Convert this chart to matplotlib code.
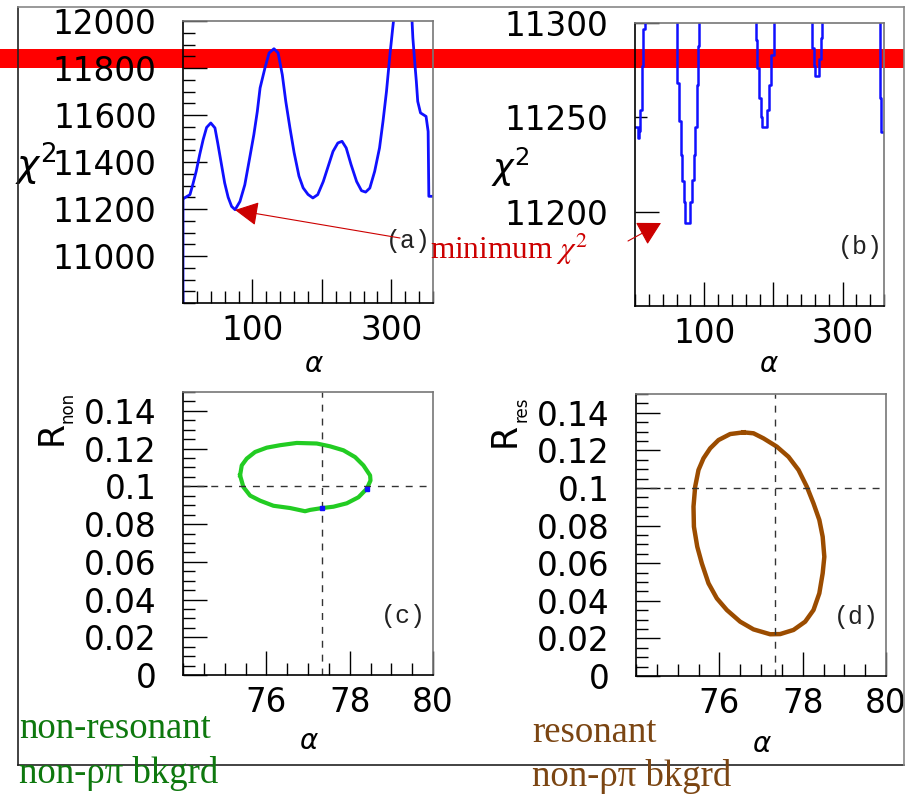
import matplotlib
matplotlib.use('Agg')
import matplotlib.pyplot as plt
from matplotlib.patches import Rectangle, FancyArrowPatch
from matplotlib.lines import Line2D
from matplotlib.ticker import MultipleLocator, FixedLocator

# (a) chi2 scan over alpha
alpha_a = [0, 0, 2, 10, 14, 19, 24, 29, 34, 40, 46, 50, 55, 60, 65, 70, 75, 82, 89, 96,
           102, 107, 111, 118, 124, 131, 137, 143, 148, 154, 160, 167, 173, 180, 187, 194, 202, 209, 216, 223,
           229, 235, 242, 250, 257, 263, 269, 276, 283, 288, 293, 298, 302, 305, 329, 331, 334, 336, 338, 342,
           350, 353, 354, 360]
chi2_a = [10800, 11245, 11247, 11261, 11303, 11360, 11431, 11495, 11547, 11566, 11545, 11481, 11396, 11311, 11250, 11211, 11197, 11232, 11303, 11417,
          11516, 11615, 11715, 11800, 11864, 11882, 11864, 11771, 11658, 11545, 11440, 11340, 11290, 11262, 11247, 11261, 11317, 11381, 11445, 11481,
          11488, 11460, 11389, 11317, 11278, 11272, 11289, 11360, 11460, 11573, 11700, 11857, 11970, 12050, 12050, 11928, 11814, 11743, 11658, 11609,
          11594, 11530, 11254, 11254]

# (b) same scan, zoomed near the minima
alpha_b = [0, 3, 4.8, 7.2, 8.7, 11, 13.5, 15, 40,
           60, 62.6, 65, 67.5, 69, 71.3, 74.7, 78.5, 81, 83.4, 85.8, 88.2, 90, 92, 93, 130,
           173.5, 175, 177, 180.7, 183, 185.5, 190, 192.7, 195, 198.5, 202, 229,
           254, 257, 260, 261.7, 265, 267.5, 270, 272, 320,
           353, 355, 356.7, 360]
chi2_b = [11245, 11245, 11239, 11243, 11254, 11277, 11297, 11320, 11560,
          11310, 11268, 11248, 11230, 11216, 11205, 11194, 11194, 11205, 11217, 11230, 11245, 11267, 11288, 11310, 11880,
          11310, 11291, 11276, 11260, 11250, 11245, 11245, 11254, 11267, 11283, 11305, 11490,
          11305, 11287, 11277, 11272, 11272, 11281, 11292, 11305, 12000,
          11310, 11260, 11242, 11242]

# (c) contour, non-resonant non-rho-pi background
alpha_c = [75.37, 75.41, 75.53, 75.73, 76.01, 76.33, 76.73, 77.21, 77.53, 77.85, 78.13, 78.33, 78.49, 78.50,
           78.41, 78.21, 77.93, 77.61, 77.34, 77.05, 76.93, 76.57, 76.17, 75.85, 75.61, 75.45, 75.37]
rnon_c = [0.1058, 0.1111, 0.1147, 0.1182, 0.1205, 0.1218, 0.1230, 0.1227, 0.1212, 0.1191, 0.1155, 0.1111, 0.1058, 0.1031,
          0.0987, 0.0942, 0.0910, 0.0892, 0.0885, 0.0875, 0.0868, 0.0885, 0.0897, 0.0924, 0.0951, 0.0996, 0.1058]
blue_alpha = [77.34, 78.41]
blue_r = [0.0885, 0.0987]

# (d) contour, resonant non-rho-pi background
alpha_d = [76.58, 76.26, 75.98, 75.78, 75.62, 75.50, 75.42, 75.38, 75.39, 75.47, 75.58, 75.74, 75.94, 76.18, 76.50,
           76.82, 77.22, 77.46, 77.78, 78.06, 78.26, 78.40, 78.48, 78.52, 78.48, 78.40, 78.26, 78.10, 77.90, 77.66,
           77.38, 77.06, 76.82, 76.58]
rres_d = [0.1296, 0.1287, 0.1255, 0.1211, 0.1158, 0.1096, 0.1007, 0.0901, 0.0794, 0.0688, 0.0599, 0.0493, 0.0413, 0.0351, 0.0289,
          0.0248, 0.0222, 0.0223, 0.0245, 0.0289, 0.0351, 0.0440, 0.0546, 0.0634, 0.0741, 0.0830, 0.0918, 0.1007, 0.1096, 0.1166,
          0.1220, 0.1264, 0.1291, 0.1296]

alpha_best = 77.34
r_best = 0.1

W, H = 918, 796
fig = plt.figure(figsize=(W / 100, H / 100), dpi=100)


def fx(x):
    return x / W


def fy(y):
    return 1 - y / H


def px_axes(l, t, r, b):
    return fig.add_axes([l / W, 1 - b / H, (r - l) / W, (b - t) / H])


def style(ax):
    ax.set_facecolor('none')
    for s in ['top', 'right']:
        ax.spines[s].set_color('#777777')
    for s in ['left', 'bottom']:
        ax.spines[s].set_color('black')
    for s in ax.spines.values():
        s.set_linewidth(1.2)
    ax.tick_params(which='both', direction='in', top=False, right=False, width=1, labelsize=23.5)
    ax.tick_params(which='major', length=17)
    ax.tick_params(which='minor', length=8.5)
    ax.tick_params(axis='y', pad=19)
    ax.tick_params(axis='x', pad=8)


# red band behind everything
fig.add_artist(Rectangle((0, fy(68)), fx(904), 19 / H, transform=fig.transFigure,
                         facecolor='red', edgecolor='none', zorder=-5))

# outer frame
fig.add_artist(Line2D([fx(18), fx(18)], [fy(7), fy(765)], transform=fig.transFigure, color='#222222', lw=1.2))
fig.add_artist(Line2D([fx(18), fx(904)], [fy(765), fy(765)], transform=fig.transFigure, color='#222222', lw=1.2))
fig.add_artist(Line2D([fx(18), fx(904)], [fy(7), fy(7)], transform=fig.transFigure, color='#888888', lw=1.2))
fig.add_artist(Line2D([fx(904), fx(904)], [fy(7), fy(765)], transform=fig.transFigure, color='#888888', lw=1.2))

tagfont = dict(fontsize=18, family='Liberation Mono', ha='center', va='center', color='#222222')

# ---- (a)
ax = px_axes(183, 21, 433, 303)
style(ax)
ax.plot(alpha_a, chi2_a, color='#1010ff', lw=2)
ax.set_xlim(0, 360)
ax.set_ylim(10800, 12000)
ax.xaxis.set_major_locator(FixedLocator([100, 200, 300]))
ax.set_xticklabels(['100', '', '300'])
ax.xaxis.set_minor_locator(MultipleLocator(20))
ax.yaxis.set_major_locator(FixedLocator([11000, 11200, 11400, 11600, 11800, 12000]))
ax.yaxis.set_minor_locator(MultipleLocator(50))
ax.set_xlabel('α', fontsize=20, style='italic')
ax.xaxis.set_label_coords(0.52, -0.167)
ax.text(-0.59, 0.49, r'$\chi^{2}$', transform=ax.transAxes, fontsize=27, ha='center', va='center')
ax.text(0.9, 0.22, '(a)', transform=ax.transAxes, **tagfont)

# ---- (b)
ax = px_axes(635, 23, 884, 306)
style(ax)
ax.plot(alpha_b, chi2_b, color='#1010ff', lw=1.8, drawstyle='steps-mid')
ax.set_xlim(0, 360)
ax.set_ylim(11150, 11300)
ax.xaxis.set_major_locator(FixedLocator([100, 200, 300]))
ax.set_xticklabels(['100', '', '300'])
ax.xaxis.set_minor_locator(MultipleLocator(20))
ax.yaxis.set_major_locator(FixedLocator([11200, 11250, 11300]))
ax.yaxis.get_major_ticks()[1].tick1line.set_markersize(8.5)
ax.set_xlabel('α', fontsize=20, style='italic')
ax.xaxis.set_label_coords(0.534, -0.155)
ax.text(-0.50, 0.49, r'$\chi^{2}$', transform=ax.transAxes, fontsize=25, ha='center', va='center')
ax.text(0.905, 0.21, '(b)', transform=ax.transAxes, **tagfont)

# ---- (c) and (d)
ylabs = ['0', '0.02', '0.04', '0.06', '0.08', '0.1', '0.12', '0.14']
yvals = [0, 0.02, 0.04, 0.06, 0.08, 0.1, 0.12, 0.14]
panels = [
    ((183, 392, 433, 675), alpha_c, rnon_c, '#22cc22', 3.0, '(c)', 'non', -0.184),
    ((636, 394, 886, 676), alpha_d, rres_d, '#9b4c00', 3.2, '(d)', 'res', -0.19),
]
for box, xs, ys, col, lw, tag, sub, laby in panels:
    ax = px_axes(*box)
    style(ax)
    ax.plot(xs, ys, color=col, lw=lw)
    ax.axvline(alpha_best, color='#333333', lw=1, ls=(0, (5, 5)))
    ax.axhline(r_best, color='#333333', lw=1, ls=(0, (5, 5)))
    ax.set_xlim(74, 80)
    ax.set_ylim(0, 0.15)
    ax.xaxis.set_major_locator(FixedLocator([76, 78, 80]))
    ax.xaxis.set_minor_locator(MultipleLocator(0.5))
    ax.yaxis.set_major_locator(FixedLocator(yvals))
    ax.set_yticklabels(ylabs)
    ax.yaxis.set_minor_locator(MultipleLocator(0.005))
    ax.set_xlabel('α', fontsize=20, style='italic')
    ax.xaxis.set_label_coords(0.5, laby)
    ax.text(0.88, 0.21, tag, transform=ax.transAxes, **tagfont)
    l = box[0]
    fig.text(fx(l - 131), fy(box[1] + 41), 'R', fontsize=25, rotation=90, ha='center', va='center')
    fig.text(fx(l - 115), fy(box[1] + 15), sub, fontsize=12, rotation=90, ha='center', va='center')
    if tag == '(c)':
        ax.plot(blue_alpha, blue_r, 's', color='#1010ff', ms=3.5)

# annotation
fig.text(fx(430), fy(259), r'minimum $\chi^{2}$', fontsize=22.5, family='Liberation Serif',
         math_fontfamily='stix', color='#cc0000', ha='left', va='baseline')
fig.add_artist(FancyArrowPatch((fx(400), fy(238)), (fx(235), fy(210)), transform=fig.transFigure,
                               arrowstyle='-|>,head_length=14.5,head_width=7.5', mutation_scale=1,
                               shrinkA=0, shrinkB=0, color='#cc0000', lw=0.8))
fig.add_artist(FancyArrowPatch((fx(628), fy(241)), (fx(661), fy(223)), transform=fig.transFigure,
                               arrowstyle='-|>,head_length=14.5,head_width=8', mutation_scale=1,
                               shrinkA=0, shrinkB=0, color='#cc0000', lw=0.8))

# bottom captions
green = '#0e780e'
brown = '#7b4512'
cap = dict(fontsize=26.5, family='Liberation Serif', va='baseline')
fig.text(fx(19), fy(738), 'non-resonant', color=green, **cap)
fig.text(fx(19), fy(783), 'non-ρπ bkgrd', color=green, **cap)
fig.text(fx(532), fy(742), 'resonant', color=brown, **cap)
fig.text(fx(532), fy(786), 'non-ρπ bkgrd', color=brown, **cap)

fig.savefig('out.png', dpi=100)
